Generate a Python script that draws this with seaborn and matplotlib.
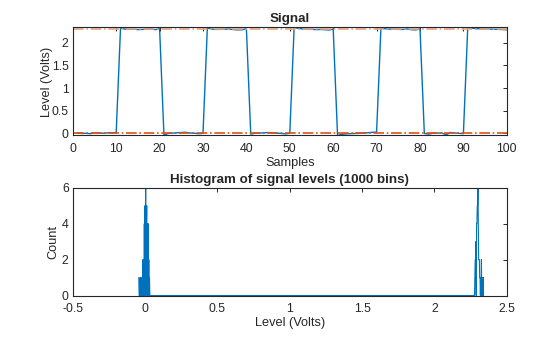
import numpy as np
import pandas as pd
import matplotlib
matplotlib.use("Agg")
import matplotlib.pyplot as plt
from matplotlib.ticker import FuncFormatter, FixedLocator
import seaborn as sns

# ---- data ----
samples = list(range(1, 101))
signal = [
    0.005, 0.0, 0.0025, -0.005, 0.0075, 0.01, 0.005, 0.0125, 0.015, 0.02,
    2.33, 2.30, 2.295, 2.2975, 2.29, 2.2925, 2.30, 2.305, 2.2875, 2.31,
    -0.035, 0.0, 0.0075, 0.015, 0.02, 0.025, 0.01, 0.005, -0.005, 0.0025,
    2.325, 2.30, 2.2925, 2.295, 2.2975, 2.3025, 2.29, 2.2825, 2.285, 2.3125,
    -0.015, 0.005, 0.01, 0.0125, 0.02, 0.015, 0.0075, 0.0, -0.01, 0.005,
    2.34, 2.315, 2.3025, 2.2975, 2.295, 2.29, 2.2925, 2.2875, 2.28, 2.30,
    -0.045, -0.02, -0.01, -0.005, 0.0, 0.0025, 0.01, 0.015, 0.025, 0.03,
    2.325, 2.3075, 2.30, 2.2975, 2.295, 2.2925, 2.3025, 2.2875, 2.2825, 2.305,
    0.0, -0.015, 0.005, 0.0075, 0.0125, -0.03, 0.02, 0.01, 0.0025, -0.005,
    2.335, 2.32, 2.31, 2.3075, 2.3025, 2.30, 2.2975, 2.295, 2.29, 2.285,
]
state_levels = [0.005, 2.30]
n_bins = 1000
signal_ticks = [0, 0.5, 1, 1.5, 2]
sample_ticks = [0, 10, 20, 30, 40, 50, 60, 70, 80, 90, 100]
level_ticks = [-0.5, 0, 0.5, 1, 1.5, 2, 2.5]
count_ticks = [0, 2, 4, 6]

# ---- styling (MATLAB-like) ----
sns.set_theme(style="white")
plt.rcParams["font.family"] = ["Liberation Sans", "DejaVu Sans"]
plt.rcParams.update({
    "axes.edgecolor": "#262626",
    "axes.linewidth": 0.8,
    "xtick.direction": "in",
    "ytick.direction": "in",
    "xtick.top": True,
    "ytick.right": True,
    "xtick.major.size": 3,
    "ytick.major.size": 3,
    "xtick.major.width": 0.7,
    "ytick.major.width": 0.7,
    "xtick.color": "#262626",
    "ytick.color": "#262626",
    "xtick.labelsize": 8.8,
    "ytick.labelsize": 8.8,
    "xtick.major.pad": 5.5,
    "ytick.major.pad": 3,
})

BLUE = "#0072BD"
ORANGE = "#D95319"
PEACH = "#E9A57F"
fmt = FuncFormatter(lambda v, p: f"{v:g}")

fig = plt.figure(figsize=(5.6, 3.37), dpi=100)
ax1 = fig.add_axes([0.130, 0.598, 0.775, 0.321])
ax2 = fig.add_axes([0.130, 0.123, 0.775, 0.320])

# --- top: signal ---
df_sig = pd.DataFrame({"Samples": samples, "Level": signal})
sns.lineplot(data=df_sig, x="Samples", y="Level", ax=ax1, color=BLUE,
             linewidth=1.0, estimator=None, sort=False)
ax1.axhline(state_levels[0], color=ORANGE, linestyle="-.", linewidth=1.2)
ax1.axhline(state_levels[1], color=PEACH, linestyle="-.", linewidth=1.2)
ax1.set_xlim(0, 100)
ax1.set_ylim(min(signal), max(signal))
ax1.xaxis.set_major_locator(FixedLocator(sample_ticks))
ax1.yaxis.set_major_locator(FixedLocator(signal_ticks))
ax1.xaxis.set_major_formatter(fmt)
ax1.yaxis.set_major_formatter(fmt)
ax1.set_xlabel("Samples", fontsize=9.2)
ax1.set_ylabel("Level (Volts)", fontsize=9.2)
ax1.xaxis.set_label_coords(0.5, -0.255)
ax1.yaxis.set_label_coords(-0.060, 0.5)
ax1.xaxis.label.set_va("center")
ax1.yaxis.label.set_va("center")
ax1.set_title("Signal", fontsize=9.6, fontweight="bold", pad=3.5)

# --- bottom: histogram of levels ---
counts, edges = np.histogram(signal, bins=n_bins)
centers = (edges[:-1] + edges[1:]) / 2
df_hist = pd.DataFrame({"Level": centers, "Count": counts})
sns.lineplot(data=df_hist, x="Level", y="Count", ax=ax2, color=BLUE,
             linewidth=0.8, estimator=None, sort=False)
ax2.set_xlim(-0.5, 2.5)
ax2.set_ylim(0, 6)
ax2.xaxis.set_major_locator(FixedLocator(level_ticks))
ax2.yaxis.set_major_locator(FixedLocator(count_ticks))
ax2.xaxis.set_major_formatter(fmt)
ax2.yaxis.set_major_formatter(fmt)
ax2.set_xlabel("Level (Volts)", fontsize=9.2)
ax2.set_ylabel("Count", fontsize=9.2)
ax2.xaxis.set_label_coords(0.5, -0.252)
ax2.yaxis.set_label_coords(-0.044, 0.5)
ax2.xaxis.label.set_va("center")
ax2.yaxis.label.set_va("center")
ax2.set_title("Histogram of signal levels (1000 bins)", fontsize=9.6,
              fontweight="bold", pad=3.5)

for ax in (ax1, ax2):
    for s in ax.spines.values():
        s.set_visible(True)
        s.set_color("#262626")

fig.savefig("out.png", dpi=100, facecolor="white")
